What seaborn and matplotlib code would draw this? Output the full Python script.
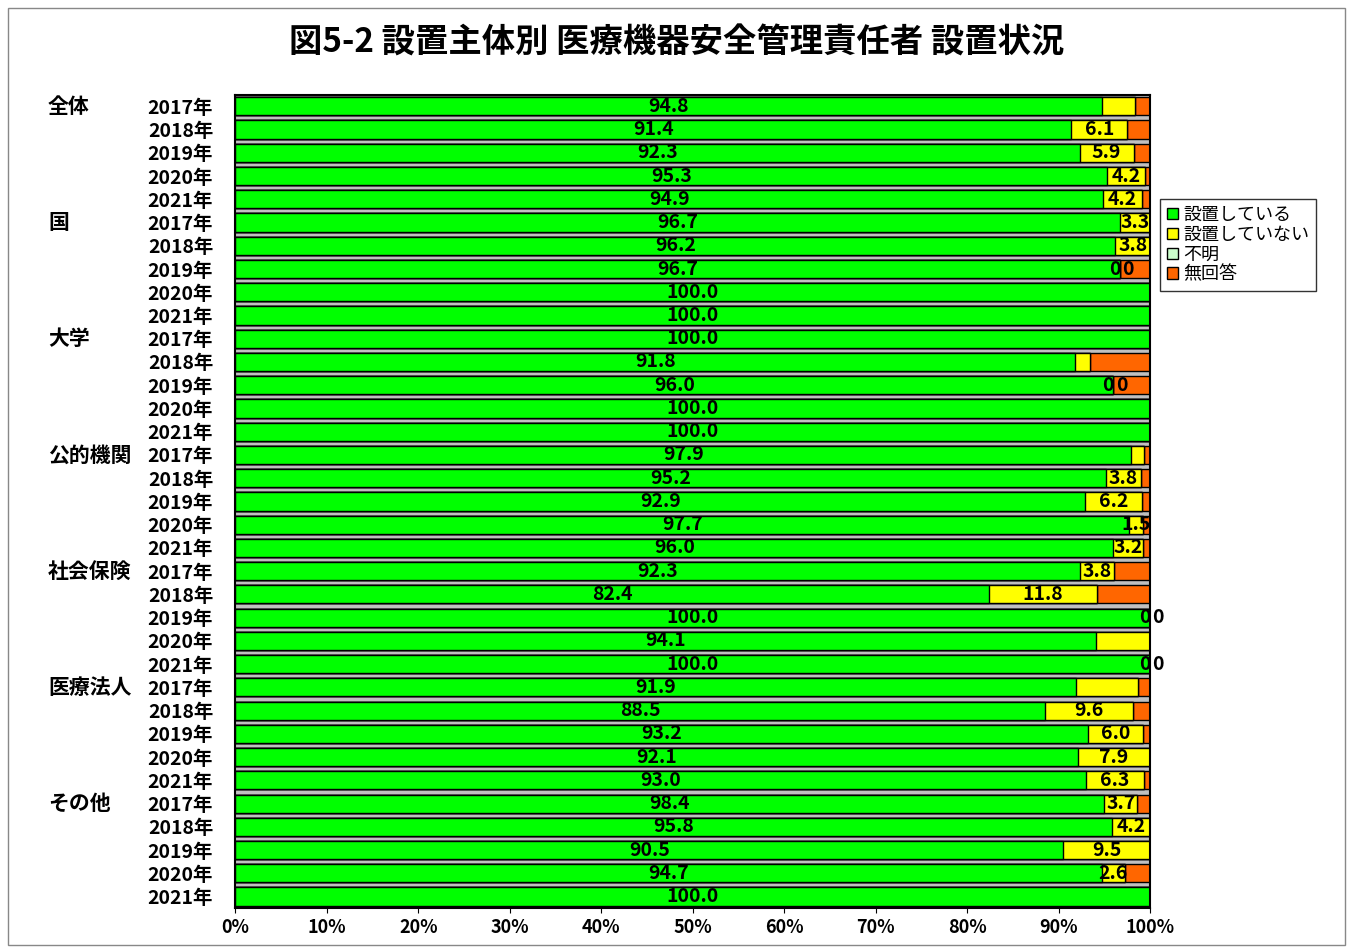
import numpy as np
import pandas as pd
import matplotlib
matplotlib.use('Agg')
import matplotlib.pyplot as plt
import seaborn as sns
from matplotlib.patches import Patch

groups = ['全体', '国', '大学', '公的機関', '社会保険', '医療法人', 'その他']
years = ['2017年', '2018年', '2019年', '2020年', '2021年']

green = [94.8, 91.4, 92.3, 95.3, 94.9,
         96.7, 96.2, 96.7, 100, 100,
         100, 91.8, 96.0, 100, 100,
         97.9, 95.2, 92.9, 97.7, 96.0,
         92.3, 82.4, 100, 94.1, 100,
         91.9, 88.5, 93.2, 92.1, 93.0,
         95.0, 95.8, 90.5, 94.7, 100]
yellow = [3.6, 6.1, 5.9, 4.2, 4.2,
          3.3, 3.8, 0, 0, 0,
          0, 1.6, 0, 0, 0,
          1.4, 3.8, 6.2, 1.5, 3.2,
          3.8, 11.8, 0, 5.9, 0,
          6.8, 9.6, 6.0, 7.9, 6.3,
          3.6, 4.2, 9.5, 2.6, 0]
unknown = [0] * 35
noans = [100 - g - y for g, y in zip(green, yellow)]

green_lbl = ['94.8', '91.4', '92.3', '95.3', '94.9',
             '96.7', '96.2', '96.7', '100.0', '100.0',
             '100.0', '91.8', '96.0', '100.0', '100.0',
             '97.9', '95.2', '92.9', '97.7', '96.0',
             '92.3', '82.4', '100.0', '94.1', '100.0',
             '91.9', '88.5', '93.2', '92.1', '93.0',
             '98.4', '95.8', '90.5', '94.7', '100.0']
yellow_lbl = ['', '6.1', '5.9', '4.2', '4.2',
              '3.3', '3.8', '0', '', '',
              '', '', '0', '', '',
              '', '3.8', '6.2', '1.5', '3.2',
              '3.8', '11.8', '0', '', '0',
              '', '9.6', '6.0', '7.9', '6.3',
              '3.7', '4.2', '9.5', '2.6', '']

rows = [f'{g}|{y}' for g in groups for y in years]
df = pd.DataFrame({'row': rows, 'g': green, 'y': yellow, 'u': unknown, 'n': noans})
df['c1'] = df['g']
df['c2'] = df['g'] + df['y']
df['c3'] = df['c2'] + df['u']
df['c4'] = df['c3'] + df['n']

plt.rcParams['font.family'] = ['Noto Sans CJK JP', 'DejaVu Sans']
fig = plt.figure(figsize=(13.53, 9.47), dpi=100)
ax = fig.add_axes([0.174, 0.041, 0.676, 0.859])
ax.set_facecolor('#c0c0c0')

colors = {'c4': '#ff6600', 'c3': '#ccffcc', 'c2': '#ffff00', 'c1': '#00ff00'}
for col in ['c4', 'c3', 'c2', 'c1']:
    sns.barplot(data=df, x=col, y='row', orient='h', color=colors[col], saturation=1,
                edgecolor='black', linewidth=1, width=0.78, ax=ax)

ax.set_xlim(0, 100)
ax.set_xticks(np.arange(0, 101, 10))
ax.set_xticklabels([f'{v}%' for v in range(0, 101, 10)], fontsize=13, fontweight='bold')
ax.set_yticks(range(35))
ax.set_yticklabels([r.split('|')[1] for r in rows], fontsize=14, fontweight='bold')
ax.tick_params(axis='y', length=0, pad=16)
ax.set_xlabel('')
ax.set_ylabel('')
for s in ax.spines.values():
    s.set_linewidth(1.5)

for i in range(35):
    ax.text(green[i] / 2, i, green_lbl[i], ha='center', va='center', fontsize=14, fontweight='bold')
    if yellow_lbl[i]:
        if yellow_lbl[i] == '0':
            ax.text(green[i] - 0.6, i, '0', ha='center', va='center', fontsize=14, fontweight='bold')
            ax.text(green[i] + 0.9, i, '0', ha='center', va='center', fontsize=14, fontweight='bold')
        else:
            ax.text(green[i] + yellow[i] / 2, i, yellow_lbl[i], ha='center', va='center',
                    fontsize=14, fontweight='bold')

for k, g in enumerate(groups):
    ax.text(-0.205, 5 * k, g, transform=ax.get_yaxis_transform(), ha='left', va='center',
            fontsize=15, fontweight='bold')

handles = [Patch(facecolor='#00ff00', edgecolor='black'), Patch(facecolor='#ffff00', edgecolor='black'),
           Patch(facecolor='#ccffcc', edgecolor='black'), Patch(facecolor='#ff6600', edgecolor='black')]
fig.legend(handles, ['設置している', '設置していない', '不明', '無回答'], loc='upper left',
           bbox_to_anchor=(0.857, 0.79), fontsize=13, frameon=True, fancybox=False,
           edgecolor='black', handlelength=0.6, handleheight=0.6, handletextpad=0.3,
           labelspacing=0.1, borderaxespad=0)

fig.text(0.5, 0.955, '図5-2 設置主体別 医療機器安全管理責任者 設置状況', ha='center', va='center',
         fontsize=24, fontweight='bold')
fig.patches.append(plt.Rectangle((0.006, 0.002), 0.988, 0.99, transform=fig.transFigure,
                                 fill=False, edgecolor='#888888', linewidth=1))
fig.savefig('out.png', dpi=100)
